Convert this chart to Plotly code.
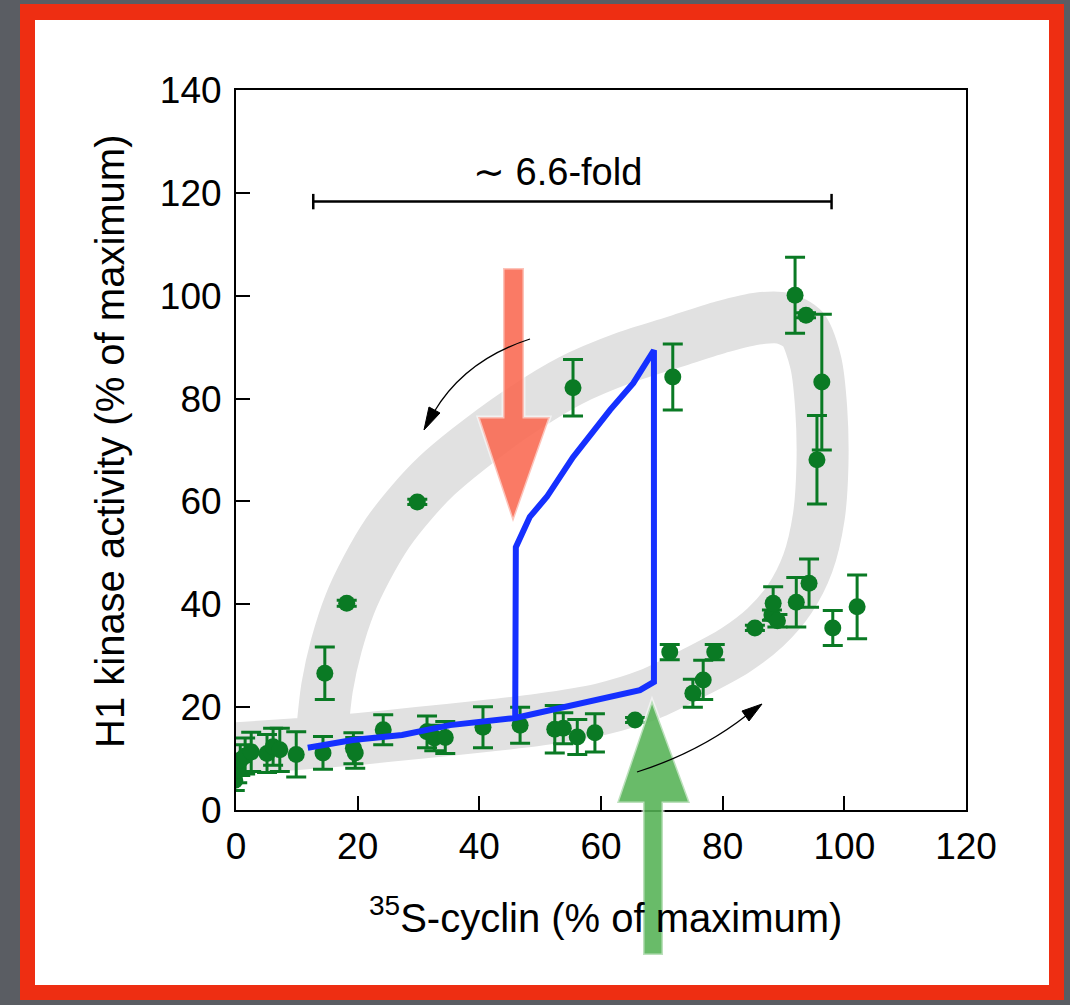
import plotly.graph_objects as go

# ---------------- data ----------------
cyclin_x = [-0.2, 0.2, 0.7, 1.5, 2.5, 5.1, 6.1, 7.2, 9.9, 14.3, 14.6, 18.2, 19.3, 19.6,
            24.2, 29.8, 31.4, 32.6, 34.4, 40.6, 46.7, 52.4, 53.8, 56.1, 59.0, 65.6,
            55.4, 71.8, 71.3, 75.1, 76.8, 78.7, 85.3, 88.1, 88.3, 89.0, 92.1, 94.2,
            98.1, 102.1, 91.9, 93.7, 96.3, 95.5]
kinase_y = [5.8, 7.8, 9.7, 10.5, 11.3, 11.0, 12.3, 11.7, 10.8, 11.1, 26.6, 40.2, 12.0, 11.1,
            15.6, 59.9, 15.2, 14.0, 14.1, 16.1, 16.5, 15.7, 15.9, 14.2, 15.0, 17.5,
            82.1, 84.2, 30.7, 22.7, 25.3, 30.7, 35.4, 37.9, 40.2, 36.8, 40.4, 44.1,
            35.4, 39.5, 100.1, 96.2, 83.2, 68.1]
kinase_err = [2.0, 2.5, 3.0, 3.5, 3.8, 3.7, 3.6, 4.2, 4.4, 3.2, 5.1, 0.6, 3.0, 3.0,
              2.9, 0.5, 3.1, 2.5, 3.1, 4.0, 3.5, 4.6, 3.0, 3.4, 3.7, 0.5,
              5.5, 6.4, 1.5, 2.7, 3.8, 1.5, 0.5, 1.0, 3.2, 1.2, 4.8, 4.7,
              3.4, 6.2, 7.4, 0.5, 13.2, 8.6]

# model hysteresis loop (blue)
model_x = [11.8, 19.2, 27.3, 35.2, 45.9, 59.8, 66.4, 68.7, 68.7, 65.3, 61.5, 55.4,
           51.1, 48.3, 46.7, 46.0, 45.9]
model_y = [12.1, 13.6, 14.6, 16.5, 17.9, 21.4, 23.3, 24.9, 89.4, 83.0, 77.8, 68.6,
           60.9, 57.0, 53.1, 51.1, 17.9]

# grey guide band (centre line of the loop)
band_x = [0, 10, 20, 30, 40, 50, 60, 68, 75, 82, 87, 91, 94, 95.8, 96.4, 96.2, 95.3, 93.2,
          90, 86, 80, 72, 64, 55, 46, 38, 33, 29, 25, 21.5, 18.7, 16.5, 15.0, 14.3]
band_y = [12.0, 12.8, 13.8, 15.0, 16.2, 17.6, 19.6, 22.5, 26.5, 31, 35.5, 41, 48, 57, 67,
          78, 87, 93.5, 95.6, 95.6, 94, 91, 88, 83.5, 77, 70, 65, 60, 54, 47, 40, 32, 24, 17]

fold_range = [12.7, 97.9]
fold_level = 118.3
fold_label = "\u223c 6.6-fold"

x_ticks = [0, 20, 40, 60, 80, 100, 120]
y_ticks = [0, 20, 40, 60, 80, 100, 120, 140]

GREEN = "#0a7a24"
BLUE = "#1530ff"
FONT = "Liberation Sans, Arial, sans-serif"

# plot-area pixel geometry helpers (for decorations only)
L, R, T, B = 236, 966, 90, 810
W, H = R - L, B - T


def P(px, py):
    return f"{(px - L) / W:.5f},{(B - py) / H:.5f}"


def path(points, close=True):
    s = "M " + " L ".join(P(a, b) for a, b in points)
    return s + (" Z" if close else "")


fig = go.Figure()

fig.add_trace(go.Scatter(x=band_x, y=band_y, mode="lines",
                         line=dict(color="#e1e1e1", width=52, shape="spline", smoothing=0.8),
                         hoverinfo="skip", showlegend=False))

fig.add_trace(go.Scatter(x=cyclin_x, y=kinase_y, mode="markers",
                         marker=dict(color=GREEN, size=17),
                         error_y=dict(type="data", array=kinase_err, color=GREEN,
                                      thickness=3, width=10),
                         showlegend=False))

fig.add_trace(go.Scatter(x=model_x, y=model_y, mode="lines",
                         line=dict(color=BLUE, width=6), showlegend=False))

shapes = []
# page frame
shapes.append(dict(type="rect", xref="paper", yref="paper", layer="below",
                   x0=(20 - L) / W, x1=(1064 - L) / W, y0=(B - 1000) / H, y1=(B - 4) / H,
                   fillcolor="#ee2e12", line=dict(width=0)))
shapes.append(dict(type="rect", xref="paper", yref="paper", layer="below",
                   x0=(35 - L) / W, x1=(1049 - L) / W, y0=(B - 985) / H, y1=(B - 20) / H,
                   fillcolor="white", line=dict(width=0)))

# fold-range bar
shapes.append(dict(type="line", xref="x", yref="y", x0=fold_range[0], x1=fold_range[1],
                   y0=fold_level, y1=fold_level, line=dict(color="black", width=2.5)))
for xv in fold_range:
    shapes.append(dict(type="line", xref="x", yref="y", x0=xv, x1=xv,
                       y0=fold_level - 1.5, y1=fold_level + 1.5,
                       line=dict(color="black", width=2.5)))

# red arrow (down)
shapes.append(dict(type="path", xref="paper", yref="paper",
                   path=path([(503, 268), (524, 268), (524, 417), (550, 417), (513, 522),
                              (478, 417), (503, 417)]),
                   fillcolor="rgba(250,108,84,0.9)", line=dict(color="rgba(255,255,255,0.55)", width=3)))
# green arrow (up)
shapes.append(dict(type="path", xref="paper", yref="paper",
                   path=path([(643, 955), (663, 955), (663, 803), (690, 803), (652, 700),
                              (617, 803), (643, 803)]),
                   fillcolor="rgba(84,178,84,0.88)", line=dict(color="rgba(255,255,255,0.55)", width=3)))

# small curved black arrows
shapes.append(dict(type="path", xref="paper", yref="paper",
                   path=f"M {P(530, 339)} Q {P(465, 360)} {P(434, 412)}",
                   line=dict(color="black", width=1.3)))
shapes.append(dict(type="path", xref="paper", yref="paper",
                   path=path([(424, 430), (440, 413), (429, 407)]),
                   fillcolor="black", line=dict(color="black", width=1)))
shapes.append(dict(type="path", xref="paper", yref="paper",
                   path=f"M {P(637, 772)} Q {P(700, 752)} {P(747, 715)}",
                   line=dict(color="black", width=1.3)))
shapes.append(dict(type="path", xref="paper", yref="paper",
                   path=path([(762, 704), (749, 721), (742, 711)]),
                   fillcolor="black", line=dict(color="black", width=1)))

annotations = [
    dict(x=52.9, y=124.1, xref="x", yref="y", text=fold_label, showarrow=False,
         xanchor="center", yanchor="middle",
         font=dict(size=38, color="black", family=FONT)),
    dict(x=(605 - L) / W, y=(B - 915) / H, xref="paper", yref="paper",
         xanchor="center", yanchor="middle",
         text="<sup>35</sup>S-cyclin (% of maximum)", showarrow=False,
         font=dict(size=40, color="black", family=FONT)),
    dict(x=(110 - L) / W, y=(B - 442) / H, xref="paper", yref="paper",
         xanchor="center", yanchor="middle",
         text="H1 kinase activity (% of maximum)", showarrow=False, textangle=-90,
         font=dict(size=40, color="black", family=FONT)),
]

axis_common = dict(showline=True, mirror=True, linecolor="black", linewidth=2,
                   ticks="inside", ticklen=14, tickwidth=2, tickcolor="black",
                   showgrid=False, zeroline=False,
                   tickfont=dict(size=37, color="black", family=FONT))

fig.update_layout(
    width=1070, height=1005,
    margin=dict(l=L, r=1070 - R, t=T, b=1005 - B),
    paper_bgcolor="#5a5d63",
    plot_bgcolor="rgba(0,0,0,0)",
    xaxis=dict(range=[0, 120], tickvals=x_ticks, ticklabelstandoff=3, **axis_common),
    yaxis=dict(range=[0, 140], tickvals=y_ticks, ticklabelstandoff=5, **axis_common),
    shapes=shapes,
    annotations=annotations,
    showlegend=False,
)

fig.write_html("out.html")
